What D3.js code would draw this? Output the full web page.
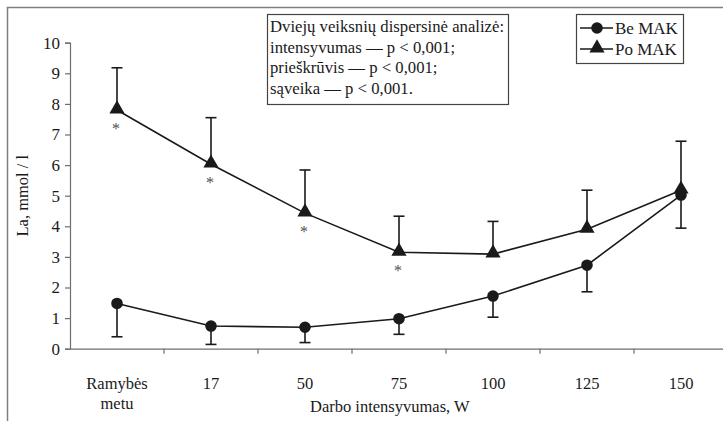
<!DOCTYPE html>
<html>
<head>
<meta charset="utf-8">
<script src="https://cdn.jsdelivr.net/npm/d3@7"></script>
<style>
  html, body { margin: 0; padding: 0; background: #fff; }
  svg { display: block; font-family: "Liberation Serif", "Times New Roman", serif; }
</style>
</head>
<body>
<svg id="chart" width="723" height="421"></svg>
<script>
// Workload categories (x axis)
const categories = ["Ramybės metu", "17", "50", "75", "100", "125", "150"];
// Mean lactate, mmol/l
const beMak = [1.48, 0.74, 0.70, 0.98, 1.72, 2.73, 5.02];
const poMak = [7.80, 6.03, 4.43, 3.15, 3.09, 3.90, 5.18];
// Error bar ends: Be MAK drawn downward, Po MAK upward
const beMakLow = [0.39, 0.14, 0.20, 0.47, 1.03, 1.86, 3.94];
const poMakHigh = [9.18, 7.55, 5.84, 4.33, 4.16, 5.18, 6.78];
// Significance markers under Po MAK
const starred = [true, true, true, true, false, false, false];
const yTicks = [0, 1, 2, 3, 4, 5, 6, 7, 8, 9, 10];
const statsLines = [
  "Dviejų veiksnių dispersinė analizė:",
  "intensyvumas — p <  0,001;",
  "prieškrūvis — p < 0,001;",
  "sąveika — p < 0,001."
];
const legendItems = ["Be MAK", "Po MAK"];

const svg = d3.select("#chart");
const ink = "#1a1a1a";
const axisGray = "#6e6e6e";
const serif = "Liberation Serif";

// outer frame
svg.append("rect").attr("x", 7.5).attr("y", 7.5).attr("width", 730).attr("height", 430)
  .attr("fill", "none").attr("stroke", "#808080").attr("stroke-width", 1.5);

const x = d3.scaleBand().domain(categories).range([70, 728]).padding(0);
const y = d3.scaleLinear().domain([0, 10]).range([348.7, 42.7]);
const cx = c => x(c) + x.bandwidth() / 2;

// y axis
const yAxis = svg.append("g").attr("transform", "translate(70,0)")
  .call(d3.axisLeft(y).tickValues(yTicks).tickSize(5).tickPadding(5).tickFormat(d3.format("d")));
yAxis.attr("font-family", serif);
yAxis.select(".domain").attr("stroke", axisGray).attr("stroke-width", 1.2);
yAxis.selectAll(".tick line").attr("stroke", axisGray).attr("stroke-width", 1.2);
yAxis.selectAll(".tick text").attr("font-size", 17).attr("fill", ink);

// x axis: labels at band centres, ticks at band boundaries
const xAxis = svg.append("g").attr("transform", `translate(0,${y(0)})`)
  .call(d3.axisBottom(x).tickSize(0).tickFormat(() => ""));
xAxis.attr("font-family", serif);
xAxis.select(".domain").attr("stroke", axisGray).attr("stroke-width", 1.2);
xAxis.selectAll(".tick").each(function(d) {
  const words = d.split(" ");
  const t = d3.select(this).select("text").text(null).attr("font-size", 16.5).attr("fill", ink)
    .attr("dy", null).attr("y", 0);
  words.forEach((w, j) => {
    t.append("tspan").attr("x", 0).attr("y", 40 + j * 20).text(w);
  });
});
xAxis.selectAll(".bound").data(categories.slice(1)).join("line")
  .attr("class", "bound")
  .attr("x1", d => x(d)).attr("x2", d => x(d))
  .attr("y1", 0).attr("y2", 5)
  .attr("stroke", axisGray).attr("stroke-width", 1.2);

// axis titles
svg.append("text").attr("transform", `translate(28,${y(5)}) rotate(-90)`)
  .attr("text-anchor", "middle").attr("font-size", 16.5).attr("fill", ink)
  .text("La, mmol / l");
svg.append("text").attr("x", 310).attr("y", 412).attr("font-size", 16.5).attr("fill", ink)
  .text("Darbo intensyvumas, W");

const plot = svg.append("g");

// error bars
function errorBars(values, ends) {
  const g = plot.append("g").attr("stroke", ink).attr("stroke-width", 1.6);
  categories.forEach((c, i) => {
    g.append("line").attr("x1", cx(c)).attr("x2", cx(c))
      .attr("y1", y(values[i])).attr("y2", y(ends[i]));
    g.append("line").attr("x1", cx(c) - 5.5).attr("x2", cx(c) + 5.5)
      .attr("y1", y(ends[i])).attr("y2", y(ends[i]));
  });
}
errorBars(poMak, poMakHigh);
errorBars(beMak, beMakLow);

const line = d3.line().x((d, i) => cx(categories[i])).y(d => y(d));
plot.append("path").datum(poMak).attr("d", line).attr("fill", "none")
  .attr("stroke", ink).attr("stroke-width", 1.6);
plot.append("path").datum(beMak).attr("d", line).attr("fill", "none")
  .attr("stroke", ink).attr("stroke-width", 1.6);

const tri = d3.symbol().type(d3.symbolTriangle).size(100);
const circ = d3.symbol().type(d3.symbolCircle).size(105);

plot.selectAll(".be").data(beMak).join("path").attr("class", "be")
  .attr("transform", (d, i) => `translate(${cx(categories[i])},${y(d)})`)
  .attr("d", circ).attr("fill", ink);
plot.selectAll(".po").data(poMak).join("path").attr("class", "po")
  .attr("transform", (d, i) => `translate(${cx(categories[i])},${y(d) - 1})`)
  .attr("d", tri).attr("fill", ink);

// asterisks
plot.selectAll(".star").data(poMak.map((v, i) => ({ v, i })).filter(d => starred[d.i]))
  .join("text").attr("class", "star")
  .attr("x", d => cx(categories[d.i]) - 1).attr("y", d => y(d.v) + 24)
  .attr("text-anchor", "middle").attr("font-size", 16).attr("fill", "#505050")
  .text("*");

// statistics box
svg.append("rect").attr("x", 267.5).attr("y", 14.5).attr("width", 241).attr("height", 90)
  .attr("fill", "#fff").attr("stroke", "#444").attr("stroke-width", 1.2);
svg.append("g").selectAll("text").data(statsLines).join("text")
  .attr("x", 270).attr("y", (d, i) => 32 + i * 20.5)
  .attr("font-size", 16.7).attr("fill", ink).text(d => d);

// legend
const leg = svg.append("g");
leg.append("rect").attr("x", 576.5).attr("y", 14.5).attr("width", 107).attr("height", 49)
  .attr("fill", "#fff").attr("stroke", "#444").attr("stroke-width", 1.2);
legendItems.forEach((name, i) => {
  const ly = 28 + i * 21;
  leg.append("line").attr("x1", 580).attr("x2", 613).attr("y1", ly).attr("y2", ly)
    .attr("stroke", ink).attr("stroke-width", 1.6);
  leg.append("path").attr("transform", `translate(597,${ly - (i ? 1 : 0)})`)
    .attr("d", i ? tri : circ).attr("fill", ink);
  leg.append("text").attr("x", 615).attr("y", ly + 6).attr("font-size", 17)
    .attr("fill", ink).text(name);
});
</script>
</body>
</html>
